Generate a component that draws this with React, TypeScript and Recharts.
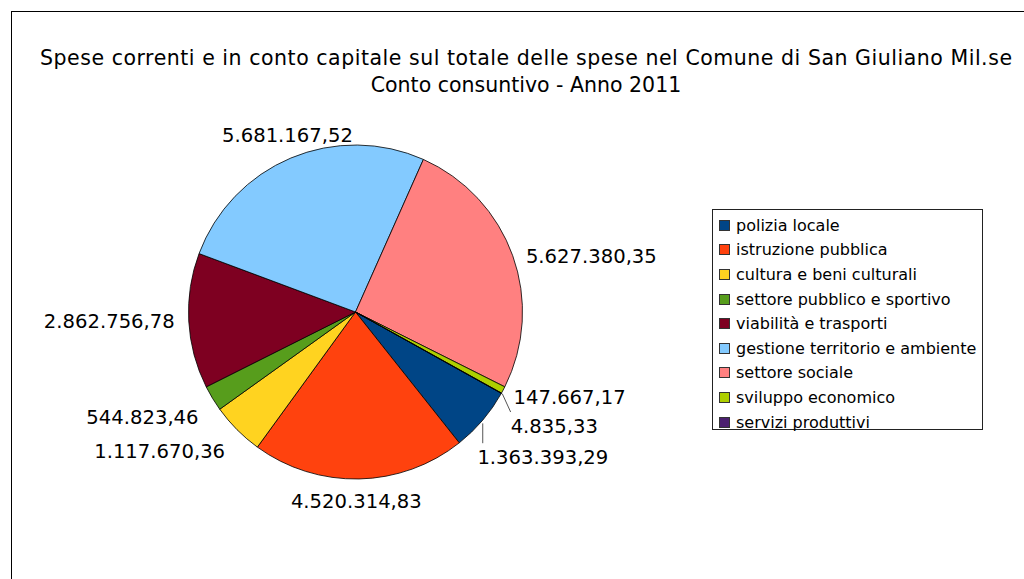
import React from 'react';
import { PieChart, Pie, Cell, Legend } from 'recharts';

const categories = [
  'polizia locale',
  'istruzione pubblica',
  'cultura e beni culturali',
  'settore pubblico e sportivo',
  'viabilità e trasporti',
  'gestione territorio e ambiente',
  'settore sociale',
  'sviluppo economico',
  'servizi produttivi',
];
const values = [
  1363393.29, 4520314.83, 1117670.36, 544823.46, 2862756.78, 5681167.52, 5627380.35, 147667.17, 4835.33,
];
const colors = ['#004586', '#ff420e', '#ffd320', '#579d1c', '#7e0021', '#83caff', '#ff8080', '#aecf00', '#4b1f6f'];
const titleLines = [
  'Spese correnti e in conto capitale sul totale delle spese nel Comune di San Giuliano Mil.se',
  'Conto consuntivo - Anno 2011',
];

const data = categories.map((name, i) => ({ name, value: values[i] }));

// label layout tweaks (pixel nudges to mimic the original collision avoidance)
const labelNudge: [number, number][] = [
  [-16, 28], [-3, 8], [-2, 11], [-2, 11], [0, -1], [2, -10], [0, 5], [-2, 0], [-3, 26],
];
const leaderIdx = [0, 8];

const FONT = '"DejaVu Sans", Verdana, sans-serif';
const RAD = Math.PI / 180;

function formatIt(v: number): string {
  const fixed = v.toFixed(2);
  const [intPart, dec] = fixed.split('.');
  const withDots = intPart.replace(/\B(?=(\d{3})+(?!\d))/g, '.');
  return `${withDots},${dec}`;
}

const renderLabel = (props: any) => {
  const { cx, cy, midAngle, outerRadius, index, value } = props;
  const cos = Math.cos(-midAngle * RAD);
  const sin = Math.sin(-midAngle * RAD);
  const R = outerRadius + 14;
  let x = cx + R * cos;
  let y = cy + R * sin;
  const anchor = cos > 0.5 ? 'start' : cos < -0.5 ? 'end' : 'middle';
  const [dx, dy] = labelNudge[index] || [0, 0];
  x += dx;
  y += dy;
  let line: React.ReactNode = null;
  if (leaderIdx.includes(index)) {
    if (index === 0) {
      const ex = cx + outerRadius * cos;
      const ey = cy + (outerRadius + 5) * sin;
      line = <line x1={ex} y1={ey} x2={ex} y2={y - 14} stroke="#555" strokeWidth={1} />;
    } else {
      const ex = cx + (outerRadius + 1) * cos;
      const ey = cy + (outerRadius + 1) * sin;
      line = <line x1={ex} y1={ey} x2={x} y2={y - 14} stroke="#555" strokeWidth={1} />;
    }
  }
  return (
    <g key={`lbl-${index}`}>
      {line}
      <text x={x} y={y} dy={7} textAnchor={anchor} fontFamily={FONT} fontSize={19.6} fill="#000">
        {formatIt(value)}
      </text>
    </g>
  );
};

const renderLegend = () => (
  <div
    style={{
      boxSizing: 'border-box',
      width: 271,
      height: 221,
      border: '1px solid #222',
      paddingTop: 3,
      paddingLeft: 6,
      fontFamily: FONT,
      fontSize: 16,
      color: '#000',
      background: '#fff',
    }}
  >
    {categories.map((c, i) => (
      <div key={c} style={{ display: 'flex', alignItems: 'center', height: 24.6, whiteSpace: 'nowrap' }}>
        <span
          style={{
            display: 'inline-block',
            boxSizing: 'border-box',
            width: 11,
            height: 11,
            background: colors[i],
            border: '1px solid #333',
            marginRight: 6,
          }}
        />
        <span>{c}</span>
      </div>
    ))}
  </div>
);

export default function App() {
  return (
    <div style={{ position: 'absolute', left: 0, top: 0, width: 1024, height: 579, overflow: 'hidden', background: '#fff' }}>
      <svg width={1024} height={579} style={{ position: 'absolute', left: 0, top: 0 }}>
        <rect x={11.5} y={11.5} width={1100} height={700} fill="none" stroke="#000" strokeWidth={1} />
        <text x={526} y={65} textAnchor="middle" fontFamily={FONT} fontSize={20.5} textLength={972} lengthAdjust="spacing" fill="#000">
          {titleLines[0]}
        </text>
        <text x={526} y={92} textAnchor="middle" fontFamily={FONT} fontSize={20.5} fill="#000">
          {titleLines[1]}
        </text>
      </svg>
      <div style={{ position: 'absolute', left: 0, top: 0 }}>
        <PieChart width={1024} height={579} margin={{ top: 0, right: 0, bottom: 0, left: 0 }}>
          <Pie
            data={data}
            dataKey="value"
            nameKey="name"
            cx={355.5}
            cy={312}
            outerRadius={167}
            startAngle={-29.14}
            endAngle={-389.14}
            stroke="#000"
            strokeWidth={0.8}
            label={renderLabel}
            labelLine={false}
            isAnimationActive={false}
          >
            {data.map((d, i) => (
              <Cell key={d.name} fill={colors[i]} />
            ))}
          </Pie>
          <Legend
            layout="vertical"
            verticalAlign="top"
            align="right"
            content={renderLegend}
            wrapperStyle={{ left: 712, top: 209, right: 'auto', width: 271, height: 221 }}
          />
        </PieChart>
      </div>
    </div>
  );
}
